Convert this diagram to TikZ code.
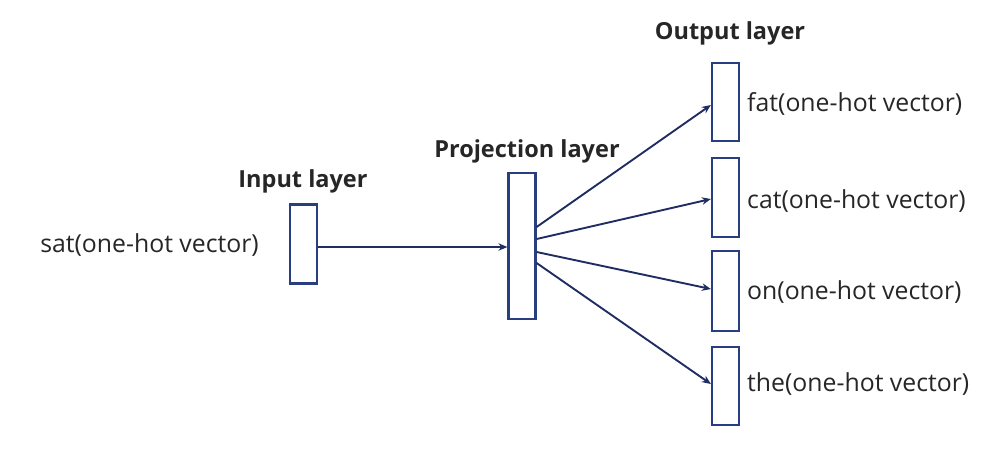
\documentclass[tikz,border=0pt]{standalone}
\usepackage{fontspec}
\setmainfont{Open Sans}
\usetikzlibrary{arrows.meta}
\definecolor{boxc}{RGB}{40,62,128}
\definecolor{arrc}{RGB}{31,45,98}
\begin{document}
\begin{tikzpicture}[x=1pt,y=-1pt,
  layerbox/.style={draw=boxc,line width=2.2pt,minimum width=27pt,inner sep=0pt},
  conn/.style={draw=arrc,line width=1.9pt,-{Stealth[length=9pt,width=7.5pt]}},
  title/.style={font=\fontsize{23.5}{26}\selectfont\bfseries,text=black!85},
  lab/.style={font=\fontsize{24.8}{27}\selectfont,text=black!85,anchor=west,inner sep=0pt}]
\useasboundingbox (0,0) rectangle (996,448);
\node[layerbox,minimum height=79pt] (in) at (303.5,244) {};
\node[layerbox,minimum height=146pt] (proj) at (522,246) {};
\node[layerbox,minimum height=78pt] (o1) at (725.5,102) {};
\node[layerbox,minimum height=79pt] (o2) at (725.5,197.5) {};
\node[layerbox,minimum height=80pt] (o3) at (725.5,291) {};
\node[layerbox,minimum height=78pt] (o4) at (725.5,386) {};
\node[title] (tin) at (303,181) {Input layer};
\node[title] (tproj) at (527,151) {Projection layer};
\node[title] (tout) at (730,33) {Output layer};
\node[lab,anchor=east] (lin) at (259,245) {sat(one-hot vector)};
\node[lab] (l1) at (747,104) {fat(one-hot vector)};
\node[lab] (l2) at (747,201) {cat(one-hot vector)};
\node[lab] (l3) at (747,292) {on(one-hot vector)};
\node[lab] (l4) at (747,384) {the(one-hot vector)};
\coordinate (s0) at ([yshift=-3pt]in.east);
\coordinate (p1) at ([yshift=19pt]proj.east);
\coordinate (p2) at ([yshift=7pt]proj.east);
\coordinate (p3) at ([yshift=-6pt]proj.east);
\coordinate (p4) at ([yshift=-17pt]proj.east);
\draw[conn] (s0) -- (s0 -| proj.west);
\draw[conn] (p1) -- ([yshift=-3pt]o1.west);
\draw[conn] (p2) -- ([yshift=-1.5pt]o2.west);
\draw[conn] (p3) -- ([yshift=2pt]o3.west);
\draw[conn] (p4) -- ([yshift=2pt]o4.west);
\end{tikzpicture}
\end{document}
